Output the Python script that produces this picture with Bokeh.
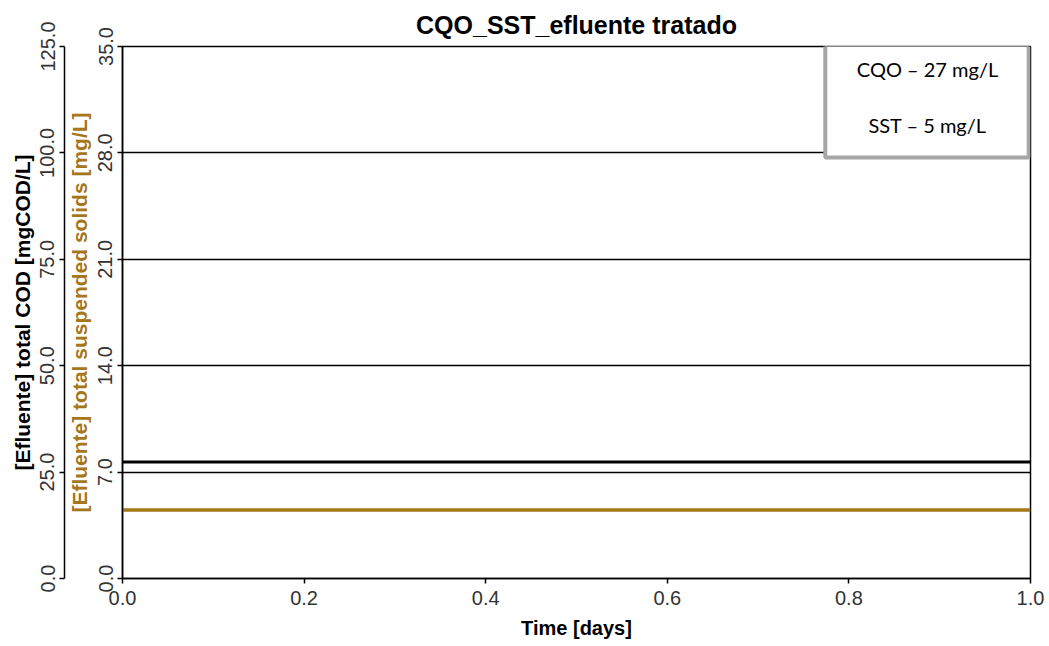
from bokeh.plotting import figure
from bokeh.models import Range1d, LinearAxis, FixedTicker, BoxAnnotation, Label, PrintfTickFormatter
from bokeh.embed import file_html
from bokeh.resources import INLINE

# ---- data ----
time_days = [0.0, 1.0]
cod_values = [27.4, 27.4]
sst_values = [4.5, 4.5]
cod_ticks = [0, 25, 50, 75, 100, 125]
sst_ticks = [0, 7, 14, 21, 28, 35]
time_ticks = [0.0, 0.2, 0.4, 0.6, 0.8, 1.0]
legend_lines = ["CQO – 27 mg/L", "SST – 5 mg/L"]

BROWN = "#a5761a"
FONT = "Liberation Sans"

p = figure(width=1049, height=646, output_backend="svg", toolbar_location=None,
           x_range=Range1d(0, 1), y_range=Range1d(0, 35),
           min_border_left=122, min_border_right=19, min_border_top=46, min_border_bottom=68)
p.extra_y_ranges = {"cod": Range1d(0, 125)}

p.title.text = "CQO_SST_efluente tratado"
p.title.align = "center"
p.title.text_font = FONT
p.title.text_font_size = "25px"
p.title.text_font_style = "bold"
p.title.text_color = "black"
p.title.standoff = 16

p.outline_line_color = "black"
p.outline_line_width = 1.5
p.xgrid.visible = False
p.ygrid.ticker = FixedTicker(ticks=sst_ticks)
p.ygrid.grid_line_color = "black"
p.ygrid.grid_line_width = 1.6
p.ygrid.grid_line_alpha = 1.0

def style_axis(ax, label, color="black"):
    ax.axis_label = label
    ax.axis_label_text_font = FONT
    ax.axis_label_text_font_size = "21px"
    ax.axis_label_text_font_style = "bold"
    ax.axis_label_text_color = color
    ax.major_label_text_font = FONT
    ax.major_label_text_font_size = "20px"
    ax.major_label_text_color = "#333333"
    ax.formatter = PrintfTickFormatter(format="%.1f")
    ax.minor_tick_line_color = None
    ax.major_tick_in = 0
    ax.major_tick_out = 5
    ax.major_tick_line_color = "black"
    ax.major_tick_line_width = 1.5
    ax.axis_line_color = "black"
    ax.axis_line_width = 1.5

# inner (SST) axis
yax = p.yaxis[0]
style_axis(yax, "[Efluente] total suspended solids [mg/L]", BROWN)
yax.ticker = FixedTicker(ticks=sst_ticks)
yax.major_label_orientation = "vertical"
yax.major_label_standoff = 5
yax.axis_label_standoff = 5

# outer (COD) axis
cod_ax = LinearAxis(y_range_name="cod", ticker=FixedTicker(ticks=cod_ticks))
style_axis(cod_ax, "[Efluente] total COD [mgCOD/L]")
cod_ax.major_label_orientation = "vertical"
cod_ax.major_label_standoff = 5
cod_ax.axis_label_standoff = 4
p.add_layout(cod_ax, "left")

xax = p.xaxis[0]
style_axis(xax, "Time [days]")
xax.axis_label_text_font_size = "20px"
xax.ticker = FixedTicker(ticks=time_ticks)
xax.major_label_standoff = 7
xax.axis_label_standoff = 9

p.line(time_days, cod_values, y_range_name="cod", line_color="black", line_width=3)
p.line(time_days, sst_values, line_color=BROWN, line_width=3.5)

box = BoxAnnotation(left=0.774, right=0.998, top=35.15, bottom=27.7,
                    fill_color="white", fill_alpha=1.0,
                    line_color="#a6a6a6", line_width=4, line_alpha=1.0)
p.add_layout(box)
for txt, yv in zip(legend_lines, [33.55, 29.85]):
    p.add_layout(Label(x=0.8866, y=yv, text=txt, text_align="center", text_baseline="middle",
                       text_font="Lato", text_font_size="20px", text_color="black"))

open("out.html", "w").write(file_html(p, INLINE))
